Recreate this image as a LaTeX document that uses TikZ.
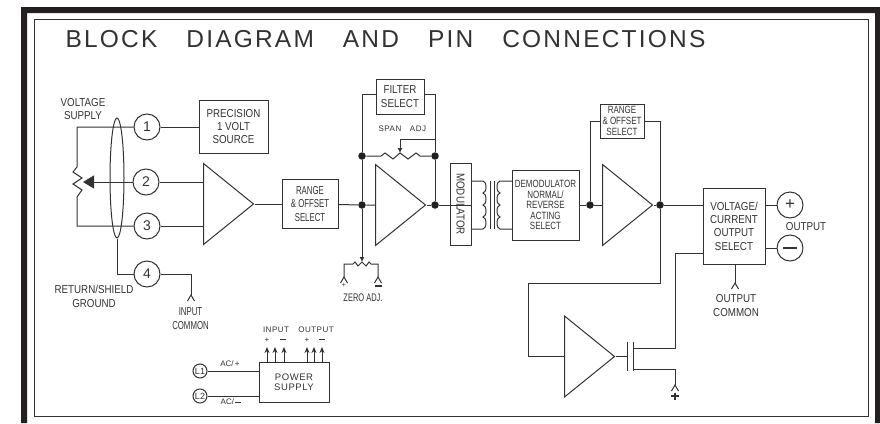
\documentclass[tikz,border=0pt]{standalone}
\usepackage{fontspec}
\setmainfont{Liberation Sans}
\newfontfamily\narrowfont[FakeStretch=0.85]{Liberation Sans}
\newfontfamily\midfont[FakeStretch=0.76]{Liberation Sans}
\newfontfamily\tightfont[FakeStretch=0.68]{Liberation Sans}
\newfontfamily\titlefont[LetterSpace=9]{Liberation Sans}
\newfontfamily\wideFont[LetterSpace=6]{Liberation Sans}
\definecolor{plateBlack}{RGB}{35,31,32}
\definecolor{plateLine}{RGB}{50,50,50}
\usetikzlibrary{arrows.meta,shapes.geometric}

\begin{document}
\begin{tikzpicture}[
    x=1pt, y=-1pt, line width=1pt, draw=plateLine, text=plateLine,
    box/.style={rectangle, draw, inner sep=0pt, align=center},
    lbl/.style={inner sep=0pt, align=center, font=\narrowfont\fontsize{11.5}{13.3}\selectfont},
    tiny/.style={inner sep=0pt, align=center, font=\fontsize{8}{9}\selectfont},
    pin/.style={circle, draw, inner sep=0pt, minimum size=26pt, font=\fontsize{14}{14}\selectfont},
    lpin/.style={circle, draw, inner sep=0pt, minimum size=14pt, font=\fontsize{9}{9}\selectfont},
    dot/.style={circle, fill=plateBlack, inner sep=0pt, minimum size=7.5pt},
    amp/.style={isosceles triangle, isosceles triangle stretches, draw, inner sep=0pt,
                minimum width=81pt, minimum height=50pt, anchor=lower side}
  ]
  \useasboundingbox (0,0) rectangle (880,423);
  \fill[plateBlack] (21,423) -- (21,7) -- (880,7) -- (880,423) -- (875,423) -- (875,13) -- (27,13) -- (27,423) -- cycle;
  \draw[line width=1pt] (34,19.5) rectangle (868,416);
  \node[inner sep=0pt, anchor=base west, font=\titlefont\fontsize{24.5}{24.5}\selectfont] (title) at (65,47)
    {BLOCK\hspace{29pt}DIAGRAM\hspace{29pt}AND\hspace{29pt}PIN\hspace{29pt}CONNECTIONS};

  % input pins
  \node[pin] (p1) at (147,127) {1};
  \node[pin] (p2) at (146,182) {2};
  \node[pin] (p3) at (147,226) {3};
  \node[pin] (p4) at (147,274) {4};
  \node[ellipse, draw, inner sep=0pt, minimum width=14pt, minimum height=120pt] (shield) at (117,178) {};
  \node[lbl] (vsupply) at (83,109) {VOLTAGE\\SUPPLY};
  \node[lbl] (rshield) at (94,296.5) {RETURN/SHIELD\\GROUND};
  \node[box, lbl, minimum width=69pt, minimum height=53pt] (precision) at (233.5,126.5) {PRECISION\\1 VOLT\\SOURCE};
  \coordinate (wiper) at (83,182);
  \draw (p1) -- (precision.west |- p1);
  \draw (p1) -- (77,127) -- (77,167) -- (73,172) -- (82,178) -- (73,184) -- (82,190) -- (77,197) -- (77,226) -- (p3);
  \draw[-{Triangle[length=11pt,width=13pt]}] (p2) -- (wiper);
  \draw (shield.south) |- (p4);
  \coordinate (incom) at (191,295);
  \draw (p4) -| (incom);
  \draw (187.5,301) -- (incom) -- (194.5,301);
  \node[lbl, font=\tightfont\fontsize{11.5}{13.5}\selectfont] (incomt) at (190.5,318.5) {INPUT\\COMMON};

  % first stage
  \node[amp] (amp1) at (203,204) {};
  \draw (p2) -- (amp1.lower side |- p2);
  \draw (p3) -- (amp1.lower side |- p3);
  \node[box, font=\tightfont\fontsize{11.5}{13.2}\selectfont, minimum width=56pt, minimum height=49pt] (range1) at (310,204) {RANGE\\\&\ OFFSET\\SELECT};
  \draw (amp1.apex) -- (range1);

  % isolation amplifier
  \node[dot] (j1) at (362,156) {};
  \node[dot] (j2) at (435,156) {};
  \node[dot] (j3) at (362,205) {};
  \node[dot] (j4) at (435,205) {};
  \node[amp] (amp2) at (375,205) {};
  \node[box, lbl, minimum width=48pt, minimum height=35pt] (filter) at (400,96.5) {FILTER\\SELECT};
  \node[tiny, font=\wideFont\fontsize{8}{9}\selectfont] (spant) at (390,129) {SPAN};
  \node[tiny, font=\wideFont\fontsize{8}{9}\selectfont] (adjt) at (418,129) {ADJ};
  \draw (range1) -- (j3) -- (amp2.lower side);
  \draw (amp2.apex) -- (j4);
  \draw (filter.west |- 0,94) -| (j1) -- (j3);
  \draw (filter.east |- 0,94) -| (j2) -- (j4);
  \draw (j1) -- (381,156) -- (385,153) -- (393,159) -- (400,153) -- (408,159) -- (416,153) -- (420,156) -- (j2);
  \coordinate (spantip) at (400,153);
  \draw[-{Latex[length=5pt,width=5pt]}] (435,139) -- (400,139) -- (spantip);

  % zero adjust
  \coordinate (zerotip) at (362,262);
  \draw[-{Latex[length=5pt,width=5pt]}] (j3) -- (zerotip);
  \draw (344,277) -- (344,264) -- (353,264) -- (355,262) -- (358,266) -- (362,262) -- (366,266) -- (369,262) -- (371,264) -- (378,264) -- (378,277);
  \draw (340.5,283) -- (344,277) -- (347.5,283);
  \draw (374.5,283) -- (378,277) -- (381.5,283);
  \node[tiny, font=\fontsize{7}{7}\selectfont] (zplus) at (344,285.5) {+};
  \draw[line width=1.3pt] (374.5,286) -- (381.5,286);
  \node[lbl, font=\tightfont\fontsize{11}{12}\selectfont] (zerot) at (363,298) {ZERO ADJ.};

  % modulator, transformer
  \node[box, minimum width=82pt, minimum height=21pt, rotate=-90, font=\narrowfont\fontsize{11.5}{12}\selectfont] (mod) at (460.5,204) {MODULATOR};
  \node[box, minimum width=67pt, minimum height=70pt, font=\midfont\fontsize{10.5}{10.5}\selectfont] (demod) at (545.5,205) {DEMODULATOR\\NORMAL/\\REVERSE\\ACTING\\SELECT};
  \draw (j4) -- (mod.north |- j4);
  \draw (471,181) -- (483,181) arc[start angle=-90, end angle=90, x radius=3, y radius=6]
    arc[start angle=-90, end angle=90, x radius=3, y radius=6]
    arc[start angle=-90, end angle=90, x radius=3, y radius=6]
    arc[start angle=-90, end angle=90, x radius=3, y radius=6] -- (471,229);
  \draw (512,181) -- (500,181) arc[start angle=-90, end angle=-270, x radius=3, y radius=6]
    arc[start angle=-90, end angle=-270, x radius=3, y radius=6]
    arc[start angle=-90, end angle=-270, x radius=3, y radius=6]
    arc[start angle=-90, end angle=-270, x radius=3, y radius=6] -- (512,229);
  \draw (490.5,181) -- (490.5,229);
  \draw (494,181) -- (494,229);

  % output stage
  \node[dot] (j5) at (590,205) {};
  \node[dot] (j6) at (660,205) {};
  \node[amp] (amp3) at (602,205) {};
  \node[box, minimum width=44pt, minimum height=34pt, font=\midfont\fontsize{10.5}{10.7}\selectfont] (range2) at (622,121) {RANGE\\\&\ OFFSET\\SELECT};
  \node[box, lbl, minimum width=62pt, minimum height=76pt] (vcsel) at (734,226) {VOLTAGE/\\CURRENT\\OUTPUT\\SELECT};
  \node[pin, font=\fontsize{17}{17}\selectfont] (oplus) at (790,205) {+};
  \node[pin] (ominus) at (790,248) {};
  \draw[line width=1.8pt] (783,248) -- (797,248);
  \node[lbl] (outt) at (806,227) {OUTPUT};
  \node[lbl] (ocomt) at (736,305.5) {OUTPUT\\COMMON};
  \draw (demod) -- (j5) -- (amp3.lower side);
  \draw (amp3.apex) -- (j6) -- (vcsel.west |- j6);
  \draw (range2.west) -| (j5);
  \draw (range2.east) -| (j6);
  \draw (vcsel.east |- oplus) -- (oplus);
  \draw (vcsel.east |- ominus) -- (ominus);
  \coordinate (ocom) at (735,283);
  \draw (vcsel.south -| ocom) -- (ocom);
  \draw (731.5,289) -- (ocom) -- (738.5,289);

  % feedback
  \node[amp] (amp4) at (564,356.5) {};
  \draw (j6) -- (660,283) -- (528,283) -- (528,356.5) -- (amp4.lower side);
  \coordinate (gate) at (627,356.5);
  \draw (amp4.apex) -- (gate);
  \draw (627,342) -- (627,371);
  \draw (633,342) -- (633,371);
  \draw (633,348) -- (675,348) -- (675,253) -- (vcsel.west |- 0,253);
  \coordinate (srcgnd) at (675,385);
  \draw (633,369) -- (675,369) -- (srcgnd);
  \draw (671.5,391) -- (srcgnd) -- (678.5,391);
  \draw[line width=1.3pt] (671,396) -- (679,396) (675,392.5) -- (675,399.5);

  % power supply
  \node[box, minimum width=70pt, minimum height=40pt, font=\wideFont\fontsize{9.5}{10.5}\selectfont] (psu) at (294,382) {POWER\\SUPPLY};
  \node[lpin] (l1) at (200,371) {L1};
  \node[lpin] (l2) at (200,396) {L2};
  \draw (l1) -- (psu.west |- l1);
  \draw (l2) -- (psu.west |- l2);
  \node[tiny] (acp) at (230,364) {AC/\,+};
  \node[tiny] (acm) at (231,402) {AC/\,\rule[2pt]{6pt}{0.9pt}};
  \foreach \px in {267,275,284,307,314,322}
    \draw[-{Stealth[length=6pt,width=5pt]}] (\px,362) -- (\px,347);
  \node[tiny, font=\wideFont\fontsize{8}{9}\selectfont] (inpt) at (276,330) {INPUT};
  \node[tiny, font=\wideFont\fontsize{8}{9}\selectfont] (outpt) at (316,330) {OUTPUT};
  \node[tiny] (ip) at (267,340) {+};
  \node[tiny] (im) at (283,340) {\rule[2pt]{6pt}{0.9pt}};
  \node[tiny] (op) at (307,340) {+};
  \node[tiny] (om) at (322,340) {\rule[2pt]{6pt}{0.9pt}};
\end{tikzpicture}
\end{document}
